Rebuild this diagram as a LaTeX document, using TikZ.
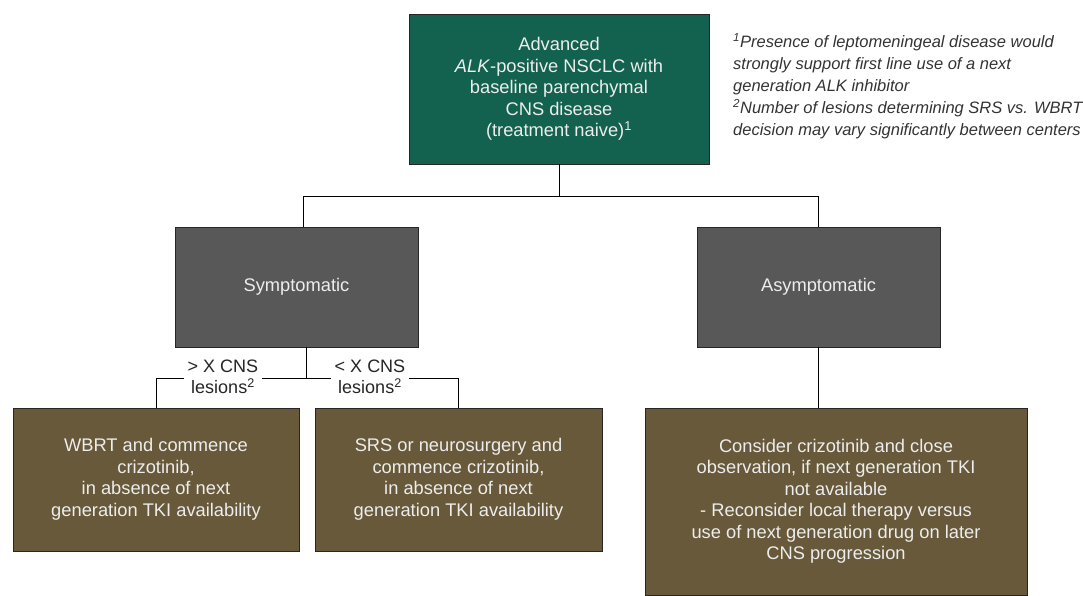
\documentclass[tikz,border=0pt]{standalone}
\usepackage{fontspec}
\setmainfont{Liberation Sans}
\begin{document}
\begin{tikzpicture}[x=1pt,y=-1pt,
  every node/.style={inner sep=0pt},
  boxbase/.style={draw=black!85, line width=0.9pt, text=white!93!black, align=center, font=\fontsize{18.3}{21.5}\selectfont},
  topbox/.style={boxbase, fill=teal0, minimum width=300pt, minimum height=150pt},
  greybox/.style={boxbase, fill=grey0, minimum width=243pt, minimum height=120pt},
  brownbox/.style={boxbase, fill=brown0},
  lbl/.style={fill=white, align=center, inner xsep=4pt, inner ysep=1pt, font=\fontsize{18}{20.5}\selectfont, text=black!85},
  conn/.style={draw=black, line width=0.9pt}
]
\definecolor{teal0}{HTML}{13614F}
\definecolor{grey0}{HTML}{585858}
\definecolor{brown0}{HTML}{67593A}
\useasboundingbox (0,0) rectangle (1083,596);

\node[topbox] (top) at (559,89) {Advanced\\\textit{ALK}-positive NSCLC with\\baseline parenchymal\\CNS disease\\(treatment naive)\textsuperscript{1}};

\node[greybox] (symp) at (296.5,287) {Symptomatic};
\node[greybox] (asym) at (818.5,287) {Asymptomatic};

\node[brownbox, minimum width=286pt, minimum height=143pt] (b1) at (156,479.5) {WBRT and commence\\crizotinib,\\in absence of next\\generation TKI availability};
\node[brownbox, minimum width=287pt, minimum height=143pt] (b2) at (458.5,479.5) {SRS or neurosurgery and\\commence crizotinib,\\in absence of next\\generation TKI availability};
\node[brownbox, minimum width=382pt, minimum height=187pt] (b3) at (836,501.5) {Consider crizotinib and close\\observation, if next generation TKI\\not available\\- Reconsider local therapy versus\\use of next generation drug on later\\CNS progression};

\node[anchor=north west, align=left, text=black!80, font=\fontsize{16.5}{22}\selectfont\itshape] (notes) at (733,33)
 {\textsuperscript{1}Presence of leptomeningeal disease would\\strongly support first line use of a next\\generation ALK inhibitor\\\textsuperscript{2}Number of lesions determining SRS vs. WBRT\\decision may vary significantly between centers};

\draw[conn] (top.south) -- ++(0,32) coordinate (jt);
\draw[conn] ([xshift=6.5pt]symp.north) |- (jt) -| (asym.north);
\draw[conn] (asym.south) -- (b3.north -| asym.south);
\draw[conn] ([xshift=10pt]symp.south) -- ++(0,31) coordinate (js);
\draw[conn] (b1.north) |- (js) -| (b2.north);
\node[lbl] (l1) at (223,377) {> X CNS\\lesions\textsuperscript{2}};
\node[lbl] (l2) at (370,377) {< X CNS\\lesions\textsuperscript{2}};
\end{tikzpicture}
\end{document}
